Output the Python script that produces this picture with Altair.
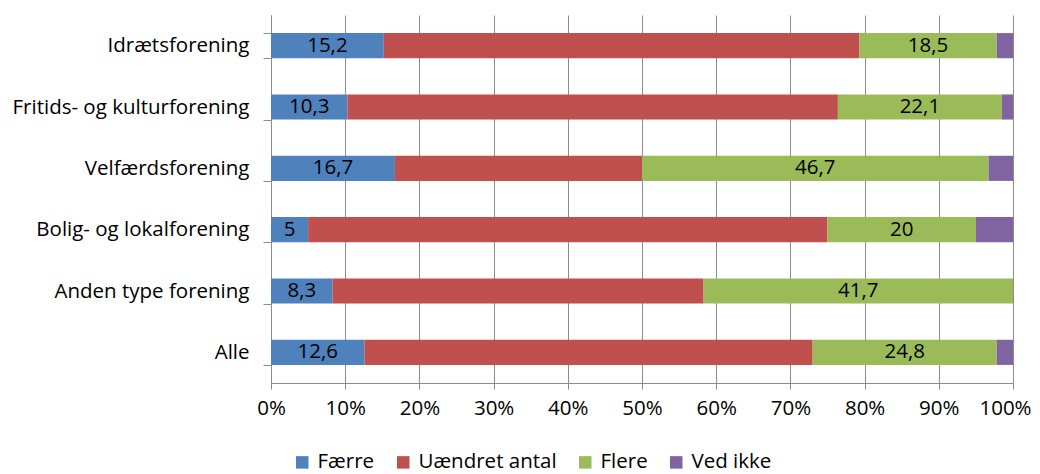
import altair as alt
import pandas as pd

categories = ["Idrætsforening", "Fritids- og kulturforening", "Velfærdsforening",
              "Bolig- og lokalforening", "Anden type forening", "Alle"]
series = ["Færre", "Uændret antal", "Flere", "Ved ikke"]
faerre = [15.2, 10.3, 16.7, 5.0, 8.3, 12.6]
uaendret = [64.1, 66.1, 33.3, 70.0, 50.0, 60.4]
flere = [18.5, 22.1, 46.7, 20.0, 41.7, 24.8]
ved_ikke = [2.2, 1.5, 3.3, 5.0, 0.0, 2.2]
colors = ["#4F81BD", "#C0504D", "#9BBB59", "#8064A2"]
tick_values = [0, 0.1, 0.2, 0.3, 0.4, 0.5, 0.6, 0.7, 0.8, 0.9, 1.0]

rows = []
for s_i, (s, vals) in enumerate(zip(series, [faerre, uaendret, flere, ved_ikke])):
    for c, v in zip(categories, vals):
        lbl = ("%g" % v).replace(".", ",")
        rows.append({"cat": c, "series": s, "order": s_i, "value": v, "label": lbl})
df = pd.DataFrame(rows)

FONT = "Open Sans"
FS = 20.5

base = alt.Chart(df).transform_stack(
    stack="value", groupby=["cat"], sort=[alt.SortField("order", order="ascending")],
    as_=["x0", "x1"], offset="normalize"
).transform_calculate(mid="(datum.x0 + datum.x1) / 2")

xscale = alt.Scale(domain=[0, 1], nice=False)
yscale = alt.Scale(paddingInner=0.59, paddingOuter=0.295)
xaxis = alt.Axis(format=".0%", values=tick_values, labelOverlap=False,
                 grid=True, gridColor="#8c8c8c", domainColor="#8c8c8c", tickColor="#8c8c8c",
                 tickSize=6, labelFontSize=FS, labelColor="#000", labelFont=FONT,
                 labelPadding=9, labelFlush=False,
                 labelOffset=alt.condition("datum.value == 1", alt.value(-8), alt.value(0)))
yaxis = alt.Axis(tickBand="extent", grid=False, labelFontSize=FS, labelColor="#000",
                 labelFont=FONT, domainColor="#8c8c8c", tickColor="#8c8c8c", tickSize=8,
                 labelPadding=14, labelLimit=400)

bars = base.mark_bar().encode(
    x=alt.X("x0:Q", scale=xscale, title=None, axis=xaxis),
    x2="x1:Q",
    y=alt.Y("cat:N", sort=categories, title=None, scale=yscale, axis=yaxis),
    color=alt.Color("series:N", scale=alt.Scale(domain=series, range=colors), title=None,
                    legend=alt.Legend(orient="none", legendX=21, legendY=437,
                                      direction="horizontal", symbolType="square",
                                      symbolSize=156, labelFontSize=FS, labelFont=FONT,
                                      labelColor="#000", columnPadding=18, labelOffset=5,
                                      symbolStrokeWidth=0)),
)

text = base.transform_filter(
    alt.FieldOneOfPredicate(field="series", oneOf=["Færre", "Flere"])
).mark_text(fontSize=FS, font=FONT, color="#000", baseline="middle").encode(
    x=alt.X("mid:Q", scale=xscale, title=None, axis=xaxis),
    y=alt.Y("cat:N", sort=categories, title=None, scale=yscale, axis=yaxis),
    text="label:N"
)

chart = (bars + text).properties(
    width=742, height=368,
    autosize=alt.AutoSizeParams(type="none"),
    padding={"left": 263, "top": 7, "right": 19, "bottom": 91}
).configure_view(stroke=None)

chart.save("out.html", embed_options={"renderer": "svg", "actions": False})
